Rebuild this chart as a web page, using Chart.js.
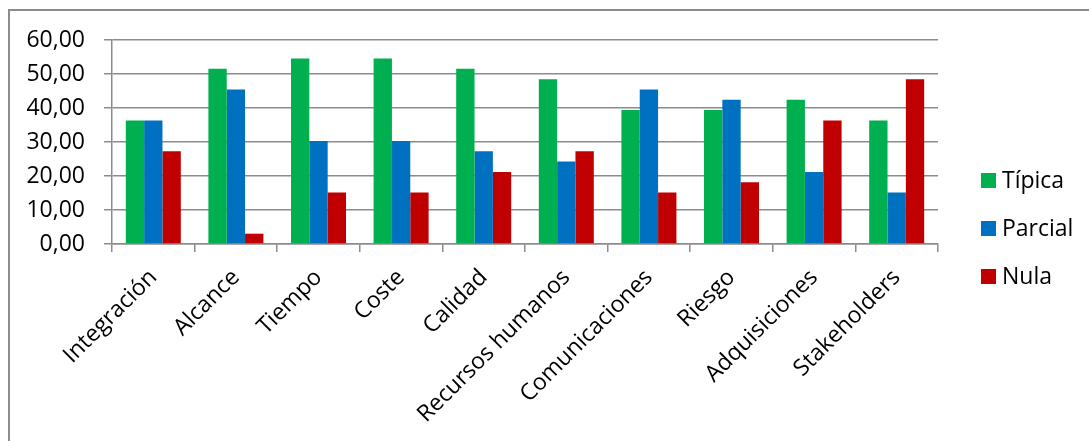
<!DOCTYPE html>
<html>
<head>
<meta charset="utf-8">
<script src="https://cdn.jsdelivr.net/npm/chart.js@4/dist/chart.umd.min.js"></script>
<style>
  html, body { margin: 0; padding: 0; background: #fff; overflow: hidden; }
  #wrap { position: absolute; left: 0; top: 0; width: 1089px; height: 441px; }
  #frame { position: absolute; left: 8px; top: 9px; width: 1200px; height: 600px; border: 2px solid #8c8c8c; }
</style>
</head>
<body>
<div id="frame"></div>
<div id="wrap"><canvas id="chart" width="1089" height="441"></canvas></div>
<script>
// --- datos ---
const categorias = ['Integración', 'Alcance', 'Tiempo', 'Coste', 'Calidad', 'Recursos humanos',
  'Comunicaciones', 'Riesgo', 'Adquisiciones', 'Stakeholders'];
const tipica  = [36.36, 51.52, 54.55, 54.55, 51.52, 48.48, 39.39, 39.39, 42.42, 36.36];
const parcial = [36.36, 45.45, 30.30, 30.30, 27.27, 24.24, 45.45, 42.42, 21.21, 15.15];
const nula    = [27.27, 3.03, 15.15, 15.15, 21.21, 27.27, 15.15, 18.18, 36.36, 48.48];
const yTicks  = [0, 10, 20, 30, 40, 50, 60];

const FONT = "'Open Sans', 'Noto Sans', sans-serif";
const gris = '#8c8c8c';

// leyenda a la derecha, dibujada a mano
const leyendaPlugin = {
  id: 'leyendaDerecha',
  afterDraw(chart) {
    const ctx = chart.ctx;
    const n = chart.data.datasets.length;
    const paso = 48;
    const y0 = 228 - paso * (n - 1) / 2;
    ctx.save();
    ctx.font = '23px ' + FONT;
    ctx.textBaseline = 'middle';
    ctx.textAlign = 'left';
    chart.data.datasets.forEach((ds, i) => {
      const y = y0 + i * paso;
      ctx.fillStyle = ds.backgroundColor;
      ctx.fillRect(981, Math.round(y - 7.5), 15, 15);
      ctx.fillStyle = '#000';
      ctx.fillText(ds.label, 1002, y + 1);
    });
    ctx.restore();
  }
};

new Chart(document.getElementById('chart').getContext('2d'), {
  type: 'bar',
  data: {
    labels: categorias,
    datasets: [
      { label: 'Típica',  data: tipica,  backgroundColor: '#00B050' },
      { label: 'Parcial', data: parcial, backgroundColor: '#0070C0' },
      { label: 'Nula',    data: nula,    backgroundColor: '#C00000' }
    ]
  },
  options: {
    responsive: false,
    animation: false,
    layout: { padding: { left: 0, top: 40, right: 151, bottom: 0 } },
    datasets: {
      bar: {
        categoryPercentage: 0.666,
        barPercentage: 1.0,
        borderWidth: 0
      }
    },
    plugins: {
      legend: { display: false },
      tooltip: { enabled: false }
    },
    scales: {
      x: {
        offset: true,
        afterFit(scale) { scale.height = 197; },
        grid: {
          offset: true,
          drawOnChartArea: false,
          drawTicks: true,
          tickLength: 8,
          color: gris,
          lineWidth: 1.5
        },
        border: { display: true, color: gris, width: 1.5 },
        ticks: {
          autoSkip: false,
          maxRotation: 45,
          minRotation: 45,
          padding: 12,
          color: '#000',
          font: { family: FONT, size: 23 }
        }
      },
      y: {
        min: 0,
        max: 60,
        afterFit(scale) { scale.width = 112; },
        afterBuildTicks(scale) { scale.ticks = yTicks.map(v => ({ value: v })); },
        grid: {
          drawTicks: true,
          tickLength: 8,
          color: gris,
          lineWidth: 1.5
        },
        border: { display: true, color: gris, width: 1.5 },
        ticks: {
          padding: 19,
          color: '#000',
          font: { family: FONT, size: 23 },
          callback: v => v.toFixed(2).replace('.', ',')
        }
      }
    }
  },
  plugins: [leyendaPlugin]
});
</script>
</body>
</html>
